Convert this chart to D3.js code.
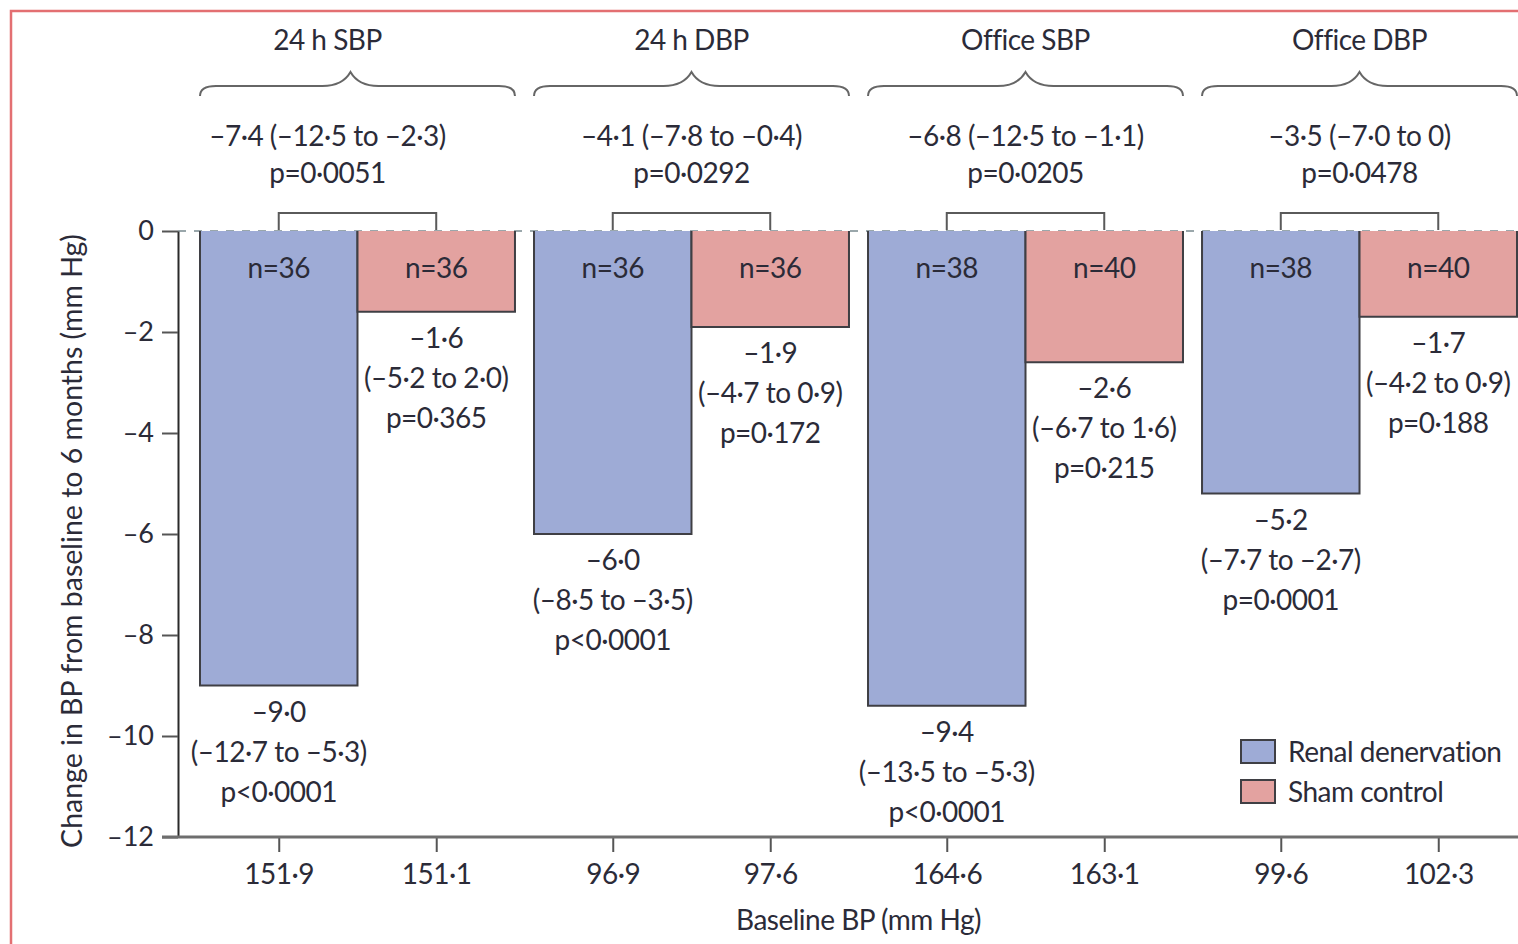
<!DOCTYPE html>
<html>
<head>
<meta charset="utf-8">
<script src="https://cdn.jsdelivr.net/npm/d3@7"></script>
<style>
    body { margin: 0; background: #fff; }
    svg { display: block; }
    text { font-family: Lato, "Open Sans", sans-serif; fill: #2b2b38; }
    .tight { letter-spacing: -0.5px; }
</style>
</head>
<body>
<div id="graph"></div>
<script>
// chart values
const groups = ['24 h SBP', '24 h DBP', 'Office SBP', 'Office DBP'];
const seriesNames = ['Renal denervation', 'Sham control'];
const diffText = ['–7·4 (–12·5 to –2·3)', '–4·1 (–7·8 to –0·4)', '–6·8 (–12·5 to –1·1)', '–3·5 (–7·0 to 0)'];
const diffP = ['p=0·0051', 'p=0·0292', 'p=0·0205', 'p=0·0478'];

const renalChange = [-9.0, -6.0, -9.4, -5.2];
const renalCI = ['(–12·7 to –5·3)', '(–8·5 to –3·5)', '(–13·5 to –5·3)', '(–7·7 to –2·7)'];
const renalP = ['p<0·0001', 'p<0·0001', 'p<0·0001', 'p=0·0001'];
const renalN = [36, 36, 38, 38];
const renalBaseline = ['151·9', '96·9', '164·6', '99·6'];

const shamChange = [-1.6, -1.9, -2.6, -1.7];
const shamCI = ['(–5·2 to 2·0)', '(–4·7 to 0·9)', '(–6·7 to 1·6)', '(–4·2 to 0·9)'];
const shamP = ['p=0·365', 'p=0·172', 'p=0·215', 'p=0·188'];
const shamN = [36, 36, 40, 40];
const shamBaseline = ['151·1', '97·6', '163·1', '102·3'];

const yTicks = [0, -2, -4, -6, -8, -10, -12];

const colors = ['#9eabd6', '#e3a2a0'];
const width = 1518;
const height = 944;
const fmt = v => (v < 0 ? '–' : '') + Math.abs(v).toFixed(1).replace('.', '·');

const rows = groups.flatMap((g, i) => [
    { group: g, s: 0, value: renalChange[i], ci: renalCI[i], p: renalP[i], n: renalN[i], base: renalBaseline[i] },
    { group: g, s: 1, value: shamChange[i], ci: shamCI[i], p: shamP[i], n: shamN[i], base: shamBaseline[i] }
]);

let svg = d3.select('#graph').append('svg')
    .attr('width', width)
    .attr('height', height);

// red frame, cut off at right and bottom like the source
svg.append('rect')
    .attr('x', 11).attr('y', 11)
    .attr('width', width + 20).attr('height', height + 20)
    .attr('fill', 'none')
    .attr('stroke', '#e36f72')
    .attr('stroke-width', 2.5);

let y = d3.scaleLinear().domain([-12, 0]).range([837, 231]);
let x0 = d3.scaleBand().domain(groups).range([200, 1517]).paddingInner(0.057);
let x1 = d3.scaleBand().domain([0, 1]).range([0, x0.bandwidth()]);
let barX = d => x0(d.group) + x1(d.s);
let barMid = d => barX(d) + x1.bandwidth() / 2;

// dashed zero line
svg.append('line')
    .attr('x1', 178).attr('x2', width)
    .attr('y1', y(0)).attr('y2', y(0))
    .attr('stroke', '#7a8a90')
    .attr('stroke-width', 1.5)
    .attr('stroke-dasharray', '8,8');

// bars
let bars = svg.append('g').selectAll('g')
    .data(rows)
    .enter()
    .append('g');
bars.append('rect')
    .attr('x', barX)
    .attr('y', y(0))
    .attr('width', x1.bandwidth())
    .attr('height', d => y(d.value) - y(0))
    .attr('fill', d => colors[d.s]);
bars.append('path')
    .attr('d', d => {
        let l = barX(d), r = l + x1.bandwidth();
        return `M${ l },${ y(0) }V${ y(d.value) }H${ r }V${ y(0) }`;
    })
    .attr('fill', 'none')
    .attr('stroke', '#3f3f44')
    .attr('stroke-width', 2);

bars.append('text')
    .attr('class', 'tight')
    .attr('x', barMid)
    .attr('y', y(0) + 47)
    .attr('text-anchor', 'middle')
    .attr('font-size', 28)
    .text(d => `n=${ d.n }`);

let below = bars.append('text')
    .attr('class', 'tight')
    .attr('text-anchor', 'middle')
    .attr('font-size', 28);
[d => fmt(d.value), d => d.ci, d => d.p].forEach((f, k) => {
    below.append('tspan')
        .attr('x', barMid)
        .attr('y', d => y(d.value) + 36 + k * 40)
        .text(f);
});

// y axis
let yAxis = d3.axisLeft(y)
    .tickValues(yTicks)
    .tickSize(16)
    .tickSizeOuter(0)
    .tickPadding(8)
    .tickFormat(d => d === 0 ? '0' : '–' + Math.abs(d));
let yG = svg.append('g')
    .attr('transform', 'translate(178,0)')
    .call(yAxis);
yG.select('.domain').attr('stroke', '#2a2a2a').attr('stroke-width', 2);
yG.selectAll('.tick line').attr('stroke', '#555').attr('stroke-width', 2);
yG.selectAll('.tick text')
    .attr('font-size', 27)
    .attr('font-family', 'Lato, sans-serif')
    .attr('fill', '#2b2b38');

// x axis (ticks at bar centres)
let keys = rows.map(d => d.group + '|' + d.s);
let xTick = d3.scaleOrdinal().domain(keys).range(rows.map(barMid));
let baseByKey = new Map(rows.map(d => [d.group + '|' + d.s, d.base]));
let xAxis = d3.axisBottom(xTick)
    .tickSize(15)
    .tickSizeOuter(0)
    .tickPadding(12)
    .tickFormat(k => baseByKey.get(k));
let xG = svg.append('g')
    .attr('transform', `translate(0,${ y(-12) })`)
    .call(xAxis);
xG.select('.domain').remove();
xG.append('line')
    .attr('x1', 162).attr('x2', width)
    .attr('stroke', '#6e6e6e')
    .attr('stroke-width', 3);
xG.selectAll('.tick line').attr('stroke', '#555').attr('stroke-width', 2);
xG.selectAll('.tick text')
    .attr('class', 'tight')
    .attr('font-size', 28)
    .attr('font-family', 'Lato, sans-serif')
    .attr('fill', '#2b2b38');

// axis titles
svg.append('text')
    .attr('class', 'tight')
    .attr('x', (200 + 1517) / 2)
    .attr('y', 930)
    .attr('text-anchor', 'middle')
    .attr('font-size', 28)
    .text('Baseline BP (mm Hg)');
svg.append('text')
    .attr('transform', `translate(82,${ (y(0) + y(-12)) / 2 + 7 }) rotate(-90)`)
    .attr('text-anchor', 'middle')
    .attr('font-size', 28.5)
    .text('Change in BP from baseline to 6 months (mm Hg)');

// group headers, braces and between-group differences
const firstShift = -30;
let head = svg.append('g').selectAll('g')
    .data(groups)
    .enter()
    .append('g');
let groupMid = (g, i) => x0(g) + x0.bandwidth() / 2 + (i === 0 ? firstShift : 0);

head.append('text')
    .attr('class', 'tight')
    .attr('x', groupMid)
    .attr('y', 50)
    .attr('text-anchor', 'middle')
    .attr('font-size', 28)
    .text(d => d);

head.append('path')
    .attr('d', (g, i) => {
        let a = x0(g), b = a + x0.bandwidth();
        let m = x0(g) + x0.bandwidth() / 2 + (i === 0 ? -7 : 0);
        let yb = 96, yl = 86, yt = 72;
        return `M${ a },${ yb }Q${ a },${ yl } ${ a + 16 },${ yl }L${ m - 28 },${ yl }` +
            `Q${ m - 8 },${ yl } ${ m },${ yt }Q${ m + 8 },${ yl } ${ m + 28 },${ yl }` +
            `L${ b - 16 },${ yl }Q${ b },${ yl } ${ b },${ yb }`;
    })
    .attr('fill', 'none')
    .attr('stroke', '#666')
    .attr('stroke-width', 2);

let diff = head.append('text')
    .attr('class', 'tight')
    .attr('text-anchor', 'middle')
    .attr('font-size', 28);
diff.append('tspan').attr('x', groupMid).attr('y', 146).text((d, i) => diffText[i]);
diff.append('tspan').attr('x', groupMid).attr('y', 183).text((d, i) => diffP[i]);

// connector between the two bars of a group
head.append('path')
    .attr('d', g => {
        let a = x0(g) + x1.bandwidth() / 2;
        let b = x0(g) + x1.bandwidth() * 1.5;
        return `M${ a },${ y(0) - 1 }V213H${ b }V${ y(0) - 1 }`;
    })
    .attr('fill', 'none')
    .attr('stroke', '#5a5a5a')
    .attr('stroke-width', 2);

// legend
let legend = svg.append('g').attr('transform', 'translate(1241,740)');
legend.selectAll('rect')
    .data(seriesNames)
    .enter()
    .append('rect')
        .attr('x', 0)
        .attr('y', (d, i) => i * 40)
        .attr('width', 34)
        .attr('height', 23)
        .attr('fill', (d, i) => colors[i])
        .attr('stroke', '#3f3f44')
        .attr('stroke-width', 2);
legend.selectAll('text')
    .data(seriesNames)
    .enter()
    .append('text')
        .attr('class', 'tight')
        .attr('x', 47)
        .attr('y', (d, i) => i * 40 + 22)
        .attr('font-size', 28)
        .text(d => d);
</script>
</body>
</html>
